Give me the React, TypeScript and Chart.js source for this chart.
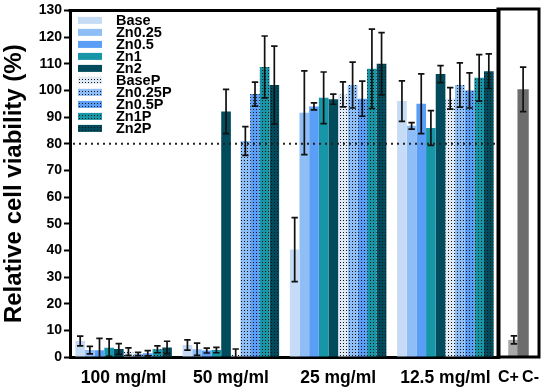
import React, { useEffect, useRef } from 'react';
import { Chart, registerables } from 'chart.js';

Chart.register(...registerables);

// ---------- data ----------
const categories = ['100 mg/ml', '50 mg/ml', '25 mg/ml', '12.5 mg/ml'];
const seriesNames = ['Base', 'Zn0.25', 'Zn0.5', 'Zn1', 'Zn2', 'BaseP', 'Zn0.25P', 'Zn0.5P', 'Zn1P', 'Zn2P'];

const base = [6.0, 4.5, 40.3, 96.0];
const baseErr = [1.8, 1.9, 12.0, 7.6];
const zn025 = [2.6, 2.9, 91.6, 86.7];
const zn025Err = [1.4, 2.3, 15.7, 1.2];
const zn05 = [2.5, 2.4, 94.0, 95.0];
const zn05Err = [4.5, 0.9, 1.3, 11.2];
const zn1 = [3.5, 2.6, 97.2, 85.9];
const zn1Err = [3.3, 1.0, 9.7, 6.5];
const zn2 = [3.0, 92.1, 96.7, 106.1];
const zn2Err = [2.0, 8.3, 1.9, 3.2];
const baseP = [2.0, 0.8, 98.5, 97.0];
const basePErr = [1.4, 2.2, 4.7, 4.0];
const zn025P = [1.1, 81.0, 102.0, 102.0];
const zn025PErr = [0.6, 5.4, 8.6, 8.3];
const zn05P = [1.4, 98.6, 96.9, 100.0];
const zn05PErr = [1.0, 4.5, 6.6, 6.6];
const zn1P = [2.9, 108.8, 108.1, 104.7];
const zn1PErr = [1.3, 11.6, 14.9, 8.7];
const zn2P = [3.6, 102.0, 110.0, 107.2];
const zn2PErr = [2.3, 14.6, 11.7, 6.5];

const controlLabels = ['C+', 'C-'];
const controlValues = [6.4, 100.0];
const controlErrors = [1.5, 8.3];

const yMin = 0;
const yMax = 130;
const yStep = 10;
const threshold = 80;
const yTitle = 'Relative cell viability (%)';

// ---------- styles ----------
const FONT = "'Liberation Sans', Arial, Helvetica, sans-serif";
const seriesColors = ['#c6dcf6', '#8fbdf5', '#5b9ef6', '#1796a8', '#014b5d', '#dfeaf6', '#8fbdf5', '#5b9ef6', '#1796a8', '#014b5d'];
const controlColors = ['#a8a8a8', '#6d6d6d'];

const seriesValues = [base, zn025, zn05, zn1, zn2, baseP, zn025P, zn05P, zn1P, zn2P];
const seriesErrors = [baseErr, zn025Err, zn05Err, zn1Err, zn2Err, basePErr, zn025PErr, zn05PErr, zn1PErr, zn2PErr];

function dotted(color: string) {
  const c = document.createElement('canvas');
  c.width = 3;
  c.height = 3;
  const g = c.getContext('2d')!;
  g.fillStyle = color;
  g.fillRect(0, 0, 3, 3);
  g.fillStyle = '#151515';
  g.fillRect(1, 1, 1, 1);
  return g.createPattern(c, 'repeat') as CanvasPattern;
}

const errorBarPlugin = {
  id: 'errorBars',
  afterDatasetsDraw(chart: any) {
    const ctx = chart.ctx;
    const y = chart.scales.y;
    const area = chart.chartArea;
    ctx.save();
    ctx.beginPath();
    ctx.rect(area.left, area.top - 20, area.right - area.left, area.bottom - area.top + 20);
    ctx.clip();
    ctx.strokeStyle = '#111';
    ctx.lineWidth = 1.7;
    chart.data.datasets.forEach((ds: any, di: number) => {
      const meta = chart.getDatasetMeta(di);
      meta.data.forEach((bar: any, i: number) => {
        const v = ds.data[i];
        const e = ds.errors ? ds.errors[i] : null;
        if (v == null || e == null) return;
        const x = bar.x;
        const yt = y.getPixelForValue(v + e);
        const yb = y.getPixelForValue(v - e);
        const cap = 3.2;
        ctx.beginPath();
        ctx.moveTo(x, yt);
        ctx.lineTo(x, yb);
        ctx.moveTo(x - cap, yt);
        ctx.lineTo(x + cap, yt);
        ctx.moveTo(x - cap, yb);
        ctx.lineTo(x + cap, yb);
        ctx.stroke();
      });
    });
    ctx.restore();
  },
};

const thresholdPlugin = {
  id: 'threshold',
  afterDatasetsDraw(chart: any) {
    const ctx = chart.ctx;
    const area = chart.chartArea;
    const yy = chart.scales.y.getPixelForValue(threshold);
    ctx.save();
    ctx.strokeStyle = '#222';
    ctx.lineWidth = 2;
    ctx.setLineDash([2, 4]);
    ctx.beginPath();
    ctx.moveTo(area.left + 3, yy);
    ctx.lineTo(area.right - 2, yy);
    ctx.stroke();
    ctx.restore();
  },
};

const mainFramePlugin = {
  id: 'mainFrame',
  afterDraw(chart: any) {
    const ctx = chart.ctx;
    const a = chart.chartArea;
    ctx.save();
    ctx.strokeStyle = '#000';
    ctx.lineWidth = 3;
    ctx.beginPath();
    ctx.moveTo(a.left - 1.5, a.top);
    ctx.lineTo(a.right, a.top);
    ctx.lineTo(a.right, a.bottom + 1.5);
    ctx.stroke();
    ctx.restore();
  },
};

const boxFramePlugin = {
  id: 'boxFrame',
  afterDraw(chart: any) {
    const ctx = chart.ctx;
    const a = chart.chartArea;
    ctx.save();
    ctx.strokeStyle = '#000';
    ctx.lineWidth = 3;
    ctx.strokeRect(a.left, a.top, a.right - a.left, a.bottom - a.top);
    ctx.restore();
  },
};

const legendPlugin = {
  id: 'innerLegend',
  afterDraw(chart: any) {
    const ctx = chart.ctx;
    const a = chart.chartArea;
    ctx.save();
    ctx.font = `bold 14.5px ${FONT}`;
    ctx.textBaseline = 'middle';
    ctx.textAlign = 'left';
    chart.data.datasets.forEach((ds: any, i: number) => {
      const cy = a.top + 10 + 12 * i;
      ctx.fillStyle = ds.backgroundColor;
      ctx.fillRect(a.left + 8, cy - 3.5, 24, 7);
      ctx.fillStyle = '#000';
      ctx.fillText(ds.label, a.left + 46, cy + 0.5);
    });
    ctx.restore();
  },
};

export default function App() {
  const mainRef = useRef<HTMLCanvasElement>(null);
  const ctrlRef = useRef<HTMLCanvasElement>(null);

  useEffect(() => {
    document.body.style.margin = '0';
    const tickFont = { family: FONT, size: 17.5, weight: 'bold' as const };

    const main = new Chart(mainRef.current!, {
      type: 'bar',
      data: {
        labels: categories,
        datasets: seriesNames.map((name, i) => ({
          label: name,
          data: seriesValues[i],
          errors: seriesErrors[i],
          backgroundColor: i < 5 ? seriesColors[i] : dotted(seriesColors[i]),
          borderWidth: 0,
          categoryPercentage: 0.9,
          barPercentage: 1,
        })) as any,
      },
      options: {
        animation: false,
        responsive: false,
        devicePixelRatio: 1,
        events: [],
        layout: { padding: { left: 0, right: 51, top: 9, bottom: 0 } },
        plugins: { legend: { display: false }, tooltip: { enabled: false } },
        scales: {
          x: {
            grid: { display: true, drawOnChartArea: false, drawTicks: false },
            border: { display: true, width: 3, color: '#000' },
            ticks: { color: '#000', font: tickFont, padding: 11, autoSkip: false, maxRotation: 0 },
            afterFit: (s: any) => { s.height = 34; },
          },
          y: {
            min: yMin,
            max: yMax,
            ticks: { stepSize: yStep, color: '#000', font: { family: FONT, size: 14, weight: 'bold' }, padding: 2 },
            grid: { display: true, drawOnChartArea: false, drawTicks: true, tickLength: 6, tickWidth: 2, tickColor: '#000' },
            border: { display: true, width: 3, color: '#000' },
            title: { display: true, text: yTitle, color: '#000', font: { family: FONT, size: 24, weight: 'bold' }, padding: { top: 0, bottom: 0 } },
            afterFit: (s: any) => { s.width = 70; },
          },
        },
      } as any,
      plugins: [errorBarPlugin, thresholdPlugin, mainFramePlugin, legendPlugin],
    });

    const ctrl = new Chart(ctrlRef.current!, {
      type: 'bar',
      data: {
        labels: controlLabels,
        datasets: [
          {
            label: controlLabels[1],
            data: [null, controlValues[1]],
            errors: [null, controlErrors[1]],
            backgroundColor: controlColors[1],
            borderWidth: 0,
            categoryPercentage: 1.1,
            barPercentage: 1,
            xAxisID: 'x',
          },
          {
            label: controlLabels[0],
            data: [controlValues[0], null],
            errors: [controlErrors[0], null],
            backgroundColor: controlColors[0],
            borderWidth: 0,
            categoryPercentage: 1.1,
            barPercentage: 1,
            xAxisID: 'x',
          },
        ] as any,
      },
      options: {
        animation: false,
        responsive: false,
        devicePixelRatio: 1,
        events: [],
        layout: { padding: { left: 498, right: 8, top: 9, bottom: 0 } },
        plugins: { legend: { display: false }, tooltip: { enabled: false } },
        scales: {
          x: { display: false },
          xLabels: {
            type: 'category',
            position: 'bottom',
            labels: controlLabels,
            offset: false,
            grid: { display: false, drawTicks: false },
            border: { display: false },
            ticks: { color: '#000', font: { family: FONT, size: 16, weight: 'bold' }, padding: 11, autoSkip: false, maxRotation: 0, align: 'inner' },
            afterFit: (s: any) => { s.height = 34; },
          },
          y: { display: false, min: yMin, max: yMax },
        },
      } as any,
      plugins: [errorBarPlugin, boxFramePlugin],
    });

    return () => {
      main.destroy();
      ctrl.destroy();
    };
  }, []);

  return (
    <div style={{ position: 'relative', width: 550, height: 391, background: '#fff' }}>
      <canvas ref={mainRef} width={550} height={391} style={{ position: 'absolute', left: 0, top: 0 }} />
      <canvas ref={ctrlRef} width={550} height={391} style={{ position: 'absolute', left: 0, top: 0 }} />
    </div>
  );
}
